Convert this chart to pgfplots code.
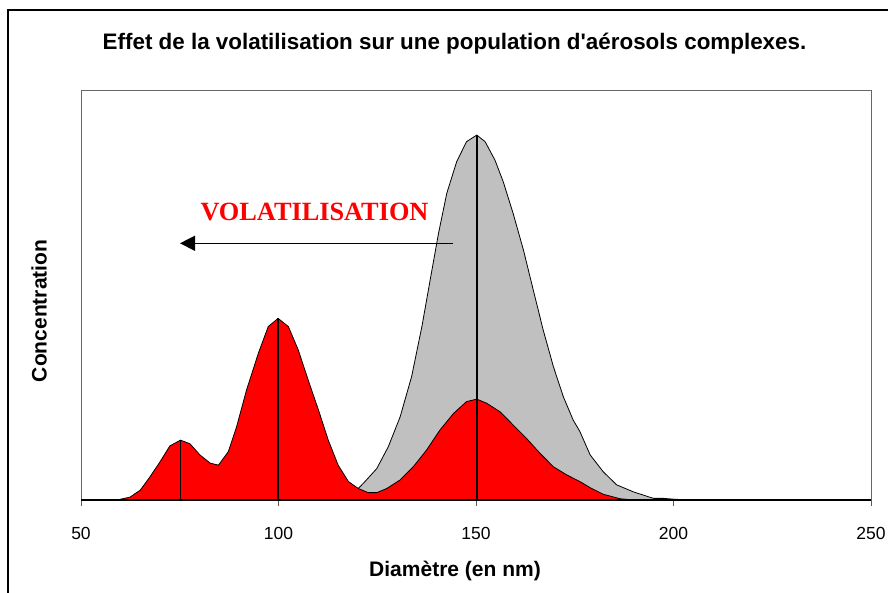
\documentclass[border=0pt]{standalone}
\usepackage{pgfplots}
\pgfplotsset{compat=1.18}
\usepackage{fontspec}
\setmainfont{Liberation Sans}
\newfontfamily\timesfont{Liberation Serif}
\usetikzlibrary{arrows.meta}
\definecolor{rouge}{HTML}{FF0000}
\definecolor{gris}{HTML}{C0C0C0}

\begin{document}
\begin{tikzpicture}[x=1pt,y=1pt]
\path[use as bounding box] (0,0) rectangle (888,593);
% cadre extérieur
\draw[line width=1.2pt] (8,-10) -- (8,583) -- (900,583);
\node[anchor=base,font=\fontsize{22.4}{24}\selectfont\bfseries] at (454.5,543) {Effet de la volatilisation sur une population d\textquotesingle aérosols complexes.};
\node[anchor=base,font=\fontsize{21}{24}\selectfont\bfseries] at (455,16.3) {Diamètre (en nm)};
\node[anchor=base,rotate=90,font=\fontsize{21}{24}\selectfont\bfseries] at (46.5,282) {Concentration};

\begin{axis}[at={(81pt,93pt)},anchor=south west,scale only axis,width=790pt,height=410pt,
  xmin=50,xmax=250,ymin=0,ymax=100,xtick={50,100,150,200,250},ytick=\empty,
  axis line style={gray!80!black,line width=0.8pt},tick style={gray!70!black,line width=0.8pt},
  major tick length=6pt,xtick pos=bottom,tick align=outside,
  /pgf/number format/assume math mode=true,
  xticklabel style={anchor=base,yshift=-34pt,font=\fontsize{17.5}{20}\selectfont},
  clip=false]
% distribution initiale (grise)
\addplot[fill=gris,draw=black,line width=0.8pt] coordinates {
(105,0)(110,0.1)(115,0.6)(117.7,1.3)(120.2,2.8)(121.9,4.5)(124.9,7.7)(127.8,13)(130.8,20.3)(133.7,30.1)
(136.3,42.3)(138.4,53.7)(140.5,65)(142.6,74.8)(145.1,82.5)(147.6,87.4)(150.2,89)(152.3,87.4)
(154.8,82.9)(156.9,77.6)(159.4,69.9)(162,61)(164.5,51.2)(167,41.5)(169.6,32.5)(172.1,25.2)
(174.6,19.5)(176.3,16.7)(178.9,11)(182.2,6.9)(185.6,3.7)(189.8,2)(194.9,0.4)(197.4,0.4)(200,0.2)(204.2,0)} \closedcycle;
% distribution après volatilisation (rouge)
\addplot[fill=rouge,draw=black,line width=0.8pt] coordinates {
(56,0)(59.1,0)(62.4,0.7)(65,2.4)(67.5,5.7)(70,9.3)(72.5,13.2)(75.2,14.6)(77.6,13.7)(80.1,11)
(82.7,9)(84.8,8.5)(87.3,11.8)(89.4,17.9)(91.9,26.8)(94.9,35.8)(97.4,42.3)(99.9,44.3)(102.5,42.3)
(105,36.6)(107.5,29.3)(110.1,22)(112.6,14.6)(115.1,8.5)(117.7,4.5)(120.2,2.8)(122.7,1.8)(124.9,1.8)
(127.4,2.8)(130.8,4.9)(134.1,8.1)(137.5,12.2)(140.9,17.1)(144.3,21.1)(147.6,24)(150.2,24.6)
(152.7,23.6)(156.1,21.5)(159.4,18.3)(162.8,15)(166.2,11.4)(169.6,8.1)(173,6.1)(176.3,4.5)
(178.9,3)(182.2,1.4)(186.5,0.3)(190,0)} \closedcycle;
% modes
\addplot[black,line width=1.6pt] coordinates {(75.2,0)(75.2,14.6)};
\addplot[black,line width=1.6pt] coordinates {(99.9,0)(99.9,44.3)};
\addplot[black,line width=1.6pt] coordinates {(150.2,0)(150.2,89)};
\draw[black,line width=1.8pt] (rel axis cs:0,0) -- (rel axis cs:1,0);
\end{axis}

\node[anchor=base,text=rouge,font=\fontsize{26.3}{28}\selectfont\timesfont\bfseries] at (314.5,372) {VOLATILISATION};
\draw[line width=1.4pt,-{Triangle[length=15pt,width=15pt]}] (453,349.7) -- (180,349.7);
\end{tikzpicture}
\end{document}
